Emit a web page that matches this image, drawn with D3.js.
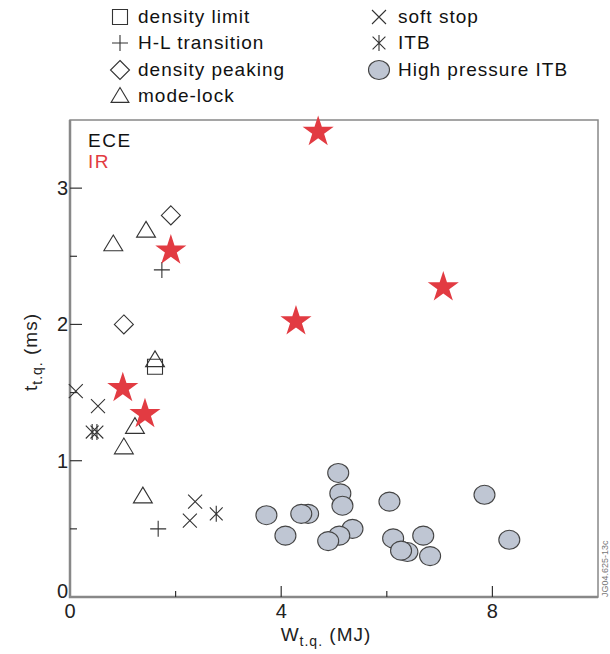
<!DOCTYPE html>
<meta charset="utf-8">
<style>
body { margin: 0; background: #fff; }
svg { font-family: "Liberation Sans", Arial, sans-serif; }
.tick-label { font-size: 20px; fill: #222; }
.legend text { font-size: 19px; fill: #111; letter-spacing: 1px; }
</style>
<body>
<script src="https://cdn.jsdelivr.net/npm/d3@7"></script>
<script>

var width = 610,
    height = 654;

var margin = {left: 70, right: 12, top: 120, bottom: 57};

// data: [W (MJ), t (ms)]
var irStars = [[4.70, 3.42], [1.91, 2.55], [4.28, 2.03], [7.07, 2.28], [1.00, 1.54], [1.42, 1.35]];
var modeLock = [[0.82, 2.59], [1.44, 2.69], [1.61, 1.74], [1.23, 1.25], [1.02, 1.10], [1.38, 0.74]];
var densityPeaking = [[1.91, 2.80], [1.02, 2.00]];
var hlTransition = [[1.74, 2.40], [1.67, 0.50]];
var densityLimit = [[1.61, 1.69]];
var softStop = [[0.11, 1.51], [0.53, 1.40], [2.37, 0.70], [2.27, 0.56]];
var itb = [[0.42, 1.21], [0.51, 1.21], [2.77, 0.61]];
var highPressureItb = [
  [3.72, 0.60], [4.08, 0.45], [4.51, 0.61], [4.38, 0.61], [5.08, 0.91],
  [5.12, 0.76], [5.16, 0.67], [5.35, 0.50], [5.10, 0.45], [4.89, 0.41],
  [6.05, 0.70], [6.12, 0.43], [6.39, 0.33], [6.27, 0.34], [6.69, 0.45],
  [6.82, 0.30], [7.85, 0.75], [8.32, 0.42]
];

var xMajor = [0, 4, 8], xMinor = [2, 6];
var yMajor = [0, 1, 2, 3], yMinor = [0.5, 1.5, 2.5];

var legendLeft = ["density limit", "H-L transition", "density peaking", "mode-lock"];
var legendRight = ["soft stop", "ITB", "High pressure ITB"];

var svg = d3.select("body").append("svg")
    .attr("width", width)
    .attr("height", height);

var x = d3.scaleLinear().domain([0, 10]).range([margin.left, width - margin.right]);
var y = d3.scaleLinear().domain([0, 3.5]).range([height - margin.bottom, margin.top]);

var ink = "#333";
var red = "#e23b42";

// marker path makers, centred on 0,0
function square(s) { return "M" + -s + "," + -s + "H" + s + "V" + s + "H" + -s + "Z"; }
function plus(s) { return "M" + -s + ",0H" + s + "M0," + -s + "V" + s; }
function cross(s) { return "M" + -s + "," + -s + "L" + s + "," + s + "M" + -s + "," + s + "L" + s + "," + -s; }
function diamond(s) { return "M0," + -s + "L" + s + ",0L0," + s + "L" + -s + ",0Z"; }
function triangle(s) { return "M0," + (-s) + "L" + (s * 1.05) + "," + (s * 0.75) + "H" + (-s * 1.05) + "Z"; }
function asterisk(s) { return cross(s * 0.8) + "M0," + -s + "V" + s; }

// frame
svg.append("rect")
    .attr("x", x(0)).attr("y", y(3.5))
    .attr("width", x(10) - x(0)).attr("height", y(0) - y(3.5))
    .attr("fill", "none").attr("stroke", "#888").attr("stroke-width", 1.5);
svg.append("path")
    .attr("d", "M" + x(0) + "," + y(3.5) + "V" + y(0) + "H" + x(10))
    .attr("fill", "none").attr("stroke", "#888").attr("stroke-width", 2.5);

// ticks (inward)
var ticks = svg.append("g").attr("stroke", "#333").attr("stroke-width", 1.2);
ticks.selectAll(".xt").data(xMajor.slice(1)).enter().append("line")
    .attr("x1", d => x(d)).attr("x2", d => x(d)).attr("y1", y(0)).attr("y2", y(0) - 11);
ticks.selectAll(".xm").data(xMinor).enter().append("line")
    .attr("x1", d => x(d)).attr("x2", d => x(d)).attr("y1", y(0)).attr("y2", y(0) - 6);
ticks.selectAll(".yt").data(yMajor.slice(1)).enter().append("line")
    .attr("y1", d => y(d)).attr("y2", d => y(d)).attr("x1", x(0)).attr("x2", x(0) + 12);
ticks.selectAll(".ym").data(yMinor).enter().append("line")
    .attr("y1", d => y(d)).attr("y2", d => y(d)).attr("x1", x(0)).attr("x2", x(0) + 7);

svg.selectAll(".xl").data(xMajor).enter().append("text")
    .attr("class", "tick-label")
    .attr("x", d => x(d)).attr("y", y(0) + 21)
    .attr("text-anchor", "middle").text(d => d);
svg.selectAll(".yl").data(yMajor).enter().append("text")
    .attr("class", "tick-label")
    .attr("x", x(0) - 2).attr("y", d => y(d) + 7 - (d === 0 ? 6 : 0))
    .attr("text-anchor", "end").text(d => d);

// axis titles
var xt = svg.append("text").attr("x", 326).attr("y", 641)
    .attr("text-anchor", "middle").attr("font-size", 19).attr("fill", "#222")
    .attr("letter-spacing", 1);
xt.append("tspan").text("W");
xt.append("tspan").attr("font-size", 14).attr("dy", 5).text("t.q.");
xt.append("tspan").attr("dy", -5).text(" (MJ)");

var yt = svg.append("text").attr("transform", "translate(37,352) rotate(-90)")
    .attr("text-anchor", "middle").attr("font-size", 19).attr("fill", "#222")
    .attr("letter-spacing", 1);
yt.append("tspan").text("t");
yt.append("tspan").attr("font-size", 14).attr("dy", 5).text("t.q.");
yt.append("tspan").attr("dy", -5).text(" (ms)");

svg.append("text").attr("x", 88).attr("y", 147).attr("font-size", 19).attr("letter-spacing", 1.5)
    .attr("fill", "#111").text("ECE");
svg.append("text").attr("x", 88).attr("y", 168).attr("font-size", 19).attr("letter-spacing", 1.5)
    .attr("fill", red).text("IR");

// markers
function drawSet(data, shape, size) {
  svg.append("g").selectAll("path").data(data).enter().append("path")
      .attr("transform", d => "translate(" + x(d[0]) + "," + y(d[1]) + ")")
      .attr("d", shape(size))
      .attr("fill", "none").attr("stroke", ink).attr("stroke-width", 1.1);
}

svg.append("g").selectAll("ellipse").data(highPressureItb).enter().append("ellipse")
    .attr("cx", d => x(d[0])).attr("cy", d => y(d[1]))
    .attr("rx", 10.5).attr("ry", 9.5)
    .attr("fill", "#bfc6d3").attr("stroke", "#444").attr("stroke-width", 1.1);

drawSet(densityLimit, square, 7.5);
drawSet(hlTransition, plus, 8);
drawSet(densityPeaking, diamond, 9.5);
drawSet(modeLock, triangle, 9);
drawSet(softStop, cross, 7);
drawSet(itb, asterisk, 8);

var star = d3.symbol().type(d3.symbolStar).size(300);
svg.append("g").selectAll("path").data(irStars).enter().append("path")
    .attr("transform", d => "translate(" + x(d[0]) + "," + (y(d[1]) + 1) + ")")
    .attr("d", star)
    .attr("fill", red);

// legend
var lg = svg.append("g").attr("class", "legend");
var leftShapes = [[square, 7.5], [plus, 8], [diamond, 9.5], [triangle, 8.5]];
var rowY = [17, 43, 70, 96];
legendLeft.forEach(function(t, i) {
  lg.append("path").attr("transform", "translate(120," + rowY[i] + ")")
      .attr("d", leftShapes[i][0](leftShapes[i][1]))
      .attr("fill", "none").attr("stroke", ink).attr("stroke-width", 1.1);
  lg.append("text").attr("x", 138).attr("y", rowY[i] + 6).text(t);
});
var rightShapes = [[cross, 7], [asterisk, 8]];
legendRight.forEach(function(t, i) {
  if (i < 2) {
    lg.append("path").attr("transform", "translate(379," + rowY[i] + ")")
        .attr("d", rightShapes[i][0](rightShapes[i][1]))
        .attr("fill", "none").attr("stroke", ink).attr("stroke-width", 1.1);
  } else {
    lg.append("ellipse").attr("cx", 379).attr("cy", rowY[i])
        .attr("rx", 10.5).attr("ry", 9.5)
        .attr("fill", "#bfc6d3").attr("stroke", "#444").attr("stroke-width", 1.1);
  }
  lg.append("text").attr("x", 398).attr("y", rowY[i] + 6).text(t);
});

// figure id
svg.append("text").attr("transform", "translate(608,597) rotate(-90)")
    .attr("font-size", 9).attr("fill", "#777").text("JG04.625-13c");

</script>
</body>
